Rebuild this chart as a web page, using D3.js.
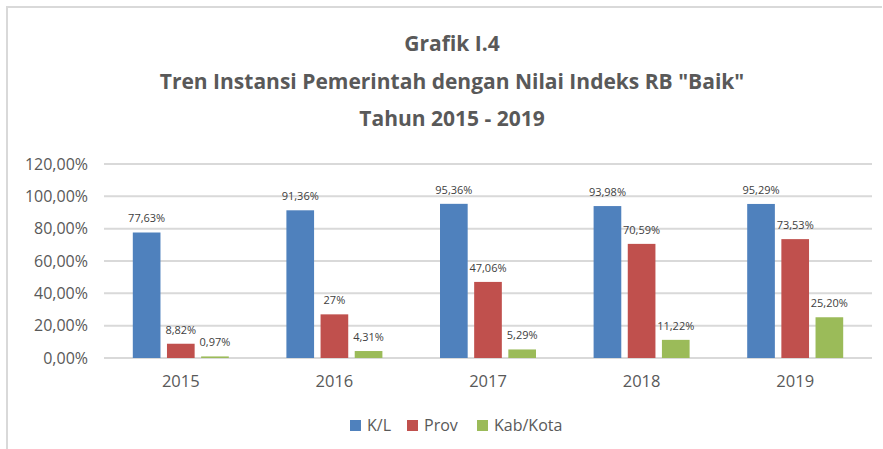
<!DOCTYPE html>
<html>
<head>
<meta charset="utf-8">
<script src="https://cdn.jsdelivr.net/npm/d3@7"></script>
<style>
  body { margin: 0; background: #fff; }
  svg text { font-family: "Open Sans", "Noto Sans", sans-serif; }
</style>
</head>
<body>
<div id="chart"></div>
<script>
// data
var years = ["2015", "2016", "2017", "2018", "2019"];
var seriesNames = ["K/L", "Prov", "Kab/Kota"];
var kl = [77.63, 91.36, 95.36, 93.98, 95.29];
var prov = [8.82, 27, 47.06, 70.59, 73.53];
var kabKota = [0.97, 4.31, 5.29, 11.22, 25.20];
var klLabels = ["77,63%", "91,36%", "95,36%", "93,98%", "95,29%"];
var provLabels = ["8,82%", "27%", "47,06%", "70,59%", "73,53%"];
var kabLabels = ["0,97%", "4,31%", "5,29%", "11,22%", "25,20%"];
var yTicks = [0, 20, 40, 60, 80, 100, 120];
var titleLines = ["Grafik I.4", "Tren Instansi Pemerintah dengan Nilai Indeks RB \"Baik\"", "Tahun 2015 - 2019"];

var colors = ["#4F81BD", "#C0504D", "#9BBB59"];
var values = [kl, prov, kabKota];
var labels = [klLabels, provLabels, kabLabels];

var width = 883, height = 449;
var svg = d3.select("#chart").append("svg")
  .attr("width", width)
  .attr("height", height);

// outer frame (only top and left show in the picture)
svg.append("line").attr("x1", 6).attr("x2", 882).attr("y1", 7).attr("y2", 7)
  .attr("stroke", "#d9d9d9").attr("stroke-width", 2);
svg.append("line").attr("x1", 7).attr("x2", 7).attr("y1", 6).attr("y2", height)
  .attr("stroke", "#d9d9d9").attr("stroke-width", 2);

// title
svg.selectAll("text.title")
  .data(titleLines)
  .enter().append("text")
    .attr("class", "title")
    .attr("x", 452)
    .attr("y", function(d, i) { return 51 + i * 37.5; })
    .attr("text-anchor", "middle")
    .style("font-weight", "bold")
    .style("font-size", "21px")
    .style("fill", "#595959")
    .text(function(d) { return d; });

var plotLeft = 104, plotRight = 872, plotTop = 164, plotBottom = 358;

var x0 = d3.scaleBand()
  .domain(years)
  .range([plotLeft, plotRight])
  .paddingInner(0.375)
  .paddingOuter(0.1875);

var x1 = d3.scaleBand()
  .domain(d3.range(seriesNames.length))
  .range([0, x0.bandwidth()])
  .paddingInner(0.19);

var y = d3.scaleLinear()
  .domain([0, 120])
  .range([plotBottom, plotTop]);

// gridlines
svg.append("g")
  .selectAll("line")
  .data(yTicks)
  .enter().append("line")
    .attr("x1", plotLeft)
    .attr("x2", plotRight)
    .attr("y1", function(d) { return y(d); })
    .attr("y2", function(d) { return y(d); })
    .attr("stroke", "#d9d9d9")
    .attr("stroke-width", 2);

// y axis labels
var yAxis = d3.axisLeft(y)
  .tickValues(yTicks)
  .tickSize(0)
  .tickPadding(16)
  .tickFormat(function(d) { return d3.format(".2f")(d).replace(".", ",") + "%"; });

var yAxisEle = svg.append("g")
  .attr("transform", "translate(" + plotLeft + ",0)")
  .call(yAxis);
yAxisEle.select(".domain").remove();
yAxisEle.selectAll("text")
  .style("font-size", "16px")
  .style("fill", "#595959");

// x axis labels
var xAxis = d3.axisBottom(x0).tickSize(0).tickPadding(17);
var xAxisEle = svg.append("g")
  .attr("transform", "translate(0," + plotBottom + ")")
  .call(xAxis);
xAxisEle.select(".domain").remove();
xAxisEle.selectAll("text")
  .style("font-size", "16.5px")
  .style("fill", "#595959");

// bars
var groups = svg.append("g").selectAll("g")
  .data(years)
  .enter().append("g")
    .attr("transform", function(d) { return "translate(" + x0(d) + ",0)"; });

groups.selectAll("rect")
  .data(function(d, i) { return values.map(function(v, s) { return { s: s, v: v[i], l: labels[s][i] }; }); })
  .enter().append("rect")
    .attr("x", function(d) { return x1(d.s); })
    .attr("width", x1.bandwidth())
    .attr("y", function(d) { return y(d.v); })
    .attr("height", function(d) { return plotBottom - y(d.v); })
    .attr("fill", function(d) { return colors[d.s]; });

groups.selectAll("text")
  .data(function(d, i) { return values.map(function(v, s) { return { s: s, v: v[i], l: labels[s][i] }; }); })
  .enter().append("text")
    .attr("x", function(d) { return x1(d.s) + x1.bandwidth() / 2; })
    .attr("y", function(d) { return y(d.v) - 10; })
    .attr("text-anchor", "middle")
    .style("font-size", "11px")
    .style("fill", "#404040")
    .text(function(d) { return d.l; });

// legend
var legendX = [350, 407, 477];
var legend = svg.append("g").selectAll("g")
  .data(seriesNames)
  .enter().append("g")
    .attr("transform", function(d, i) { return "translate(" + legendX[i] + ",420)"; });
legend.append("rect")
  .attr("width", 11).attr("height", 11)
  .attr("fill", function(d, i) { return colors[i]; });
legend.append("text")
  .attr("x", 17).attr("y", 11)
  .style("font-size", "16px")
  .style("fill", "#595959")
  .text(function(d) { return d; });
</script>
</body>
</html>
